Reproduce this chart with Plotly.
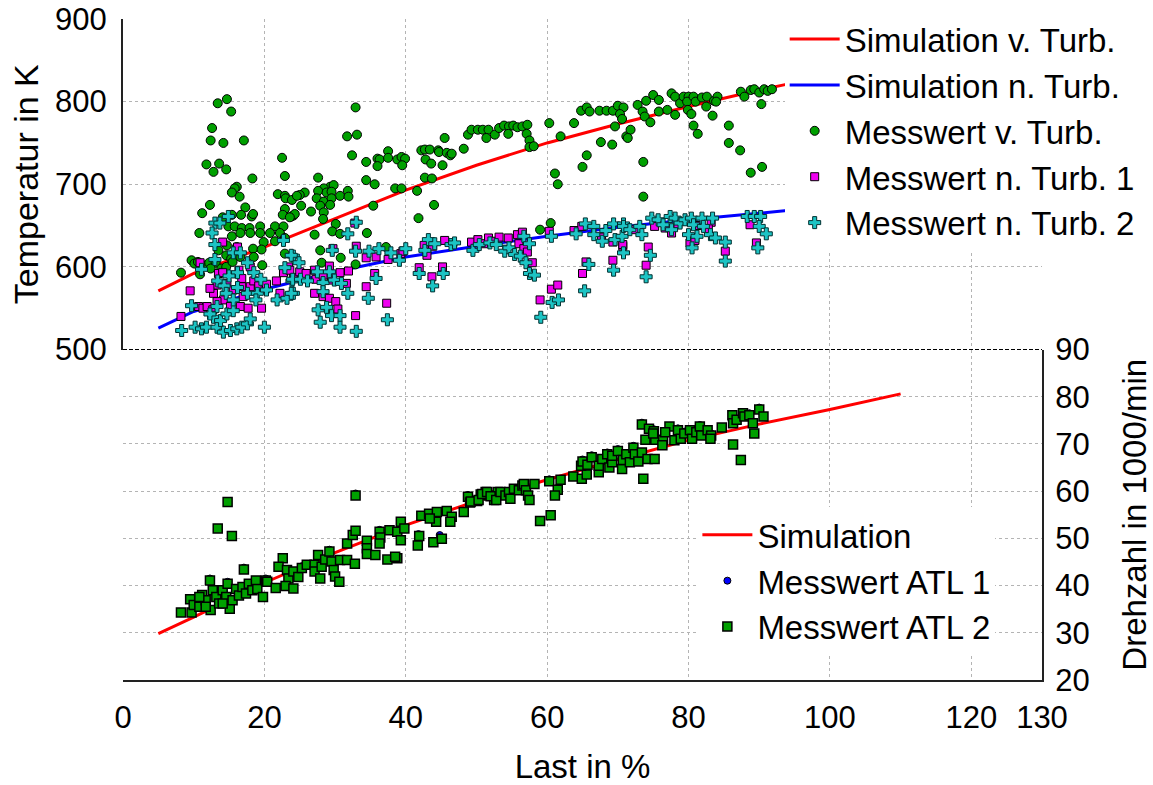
import plotly.graph_objects as go

# ---------------- data ----------------
sim_temp_x = [5, 10, 20, 30, 40, 50, 60, 70, 80, 90, 95]
sim_temp_vor = [571, 592, 624, 659, 693, 723, 750, 773, 794, 814, 823]
sim_temp_nach = [526, 546, 573, 594, 612, 625, 637, 648, 657, 665, 669]

sim_n_x = [5, 10, 20, 30, 40, 50, 60, 70, 80, 90, 100, 110]
sim_n_y = [29.8, 33.3, 40.6, 47.0, 52.8, 57.9, 62.4, 66.7, 70.8, 74.2, 77.3, 80.6]

vt_x = [13.4, 14.7, 15.3, 12.6, 12.4, 14.2, 17.1, 11.8, 13.6, 12.8, 14.6, 18.3, 22.5, 22.9, 16.1, 15.8, 15.4, 16.5,
        21.9, 22.9, 23.0, 23.9, 12.3, 17.3, 11.2, 15.4, 16.7, 18.2, 18.4, 14.1, 22.9, 22.6, 23.8, 24.1, 10.8, 14.9,
        15.8, 16.8, 17.9, 19.4, 21.5, 22.7, 15.4, 16.6, 18.0, 19.4, 20.8, 22.2, 22.9, 21.5, 19.9, 18.4, 19.6, 14.7,
        16.1, 13.5, 14.6, 15.3, 16.6, 18.5, 19.7, 9.7, 10.1, 10.6, 11.3, 12.2, 13.1, 12.4, 13.9, 8.2, 10.9, 14.6,
        15.5, 22.9,
        32.9, 31.7, 33.1, 32.4, 34.4, 36.0, 36.3, 36.0, 37.5, 37.5, 38.8, 39.4, 39.9, 39.5, 42.2, 42.7, 43.4, 44.6,
        44.7, 45.8, 46.3, 45.5, 42.8, 43.6, 45.2, 42.7, 43.7, 41.6, 44.0, 41.8, 34.4, 35.6, 38.5, 39.4, 35.4, 34.5,
        27.6, 29.3, 29.8, 28.4, 27.6, 28.8, 29.5, 30.7, 31.8, 31.9, 27.4, 28.4, 29.5, 29.3, 27.9, 28.4, 28.3, 26.6,
        25.2, 25.7, 25.0, 24.6, 24.3, 23.6, 30.1, 29.6, 30.7, 27.1, 27.9, 28.1, 30.8, 32.9, 37.2,
        46.5, 48.2, 48.8, 49.3, 50.2, 50.9, 51.7, 51.4, 52.6, 53.2, 53.9, 54.6, 55.2, 55.8, 56.5, 57.2, 54.5, 57.1,
        57.5, 57.5, 58.1, 60.3, 61.9, 63.8, 61.1, 61.5, 59.0, 60.5, 65.6, 65.0, 67.6, 69.2, 71.2, 64.8, 65.6, 66.0,
        67.4, 68.4, 69.3, 70.0, 70.8, 70.3, 70.6, 69.6, 71.8,
        71.4, 72.8, 73.5, 73.8, 74.6, 74.0, 75.0, 75.8, 75.8, 77.0, 77.6, 78.1, 78.1, 78.8, 79.3, 80.0, 79.8, 79.9,
        80.4, 80.7, 81.0, 81.9, 82.6, 82.5, 83.6, 84.1, 83.9, 83.4, 80.7, 81.3, 85.7, 85.7, 87.3, 88.8, 90.4, 87.4,
        87.9, 88.8, 89.3, 90.0, 90.3, 90.7, 91.2, 91.8, 73.6, 73.6]
vt_y = [798, 803, 788, 768, 753, 750, 753, 724, 725, 715, 718, 707, 732, 710, 697, 695, 690, 685,
        688, 686, 683, 681, 675, 672, 665, 663, 663, 661, 664, 660, 670, 663, 661, 662, 641, 649,
        649, 647, 647, 649, 649, 649, 637, 641, 641, 641, 641, 641, 635, 631, 630, 622, 621, 626,
        624, 620, 614, 610, 612, 612, 602, 608, 604, 606, 602, 605, 605, 598, 598, 593, 591, 600,
        606, 616,
        793, 758, 760, 735, 727, 731, 730, 722, 740, 732, 730, 733, 731, 723, 741, 742, 742, 741,
        739, 738, 735, 756, 730, 725, 723, 708, 707, 692, 675, 659, 705, 700, 695, 695, 674, 641,
        708, 697, 699, 695, 692, 690, 691, 686, 692, 685, 683, 679, 683, 675, 674, 666, 658, 667,
        674, 690, 687, 686, 664, 660, 652, 643, 640, 639, 620, 605, 611, 603, 624,
        737, 743, 760, 766, 766, 766, 766, 756, 760, 768, 771, 770, 771, 769, 770, 772, 761, 761,
        753, 745, 746, 774, 758, 774, 713, 700, 645, 653, 735, 721, 751, 748, 758, 789, 793, 788,
        789, 789, 789, 795, 793, 785, 779, 770, 766,
        756, 796, 788, 782, 775, 801, 808, 802, 788, 790, 810, 806, 784, 798, 806, 806, 800, 790,
        785, 806, 800, 805, 806, 794, 801, 806, 800, 783, 771, 761, 771, 750, 741, 714, 721, 812,
        806, 814, 815, 811, 797, 815, 813, 815, 727, 685]

nt1_x = [9.5, 8.2, 10.9, 10.7, 11.3, 11.9, 12.8, 13.3, 13.5, 14.1, 14.1, 16.2, 14.7, 15.6, 16.8, 18.0, 17.0, 18.0,
         18.5, 19.2, 20.1, 14.2, 15.2, 16.6, 17.7, 19.6, 12.7, 20.3, 21.7, 22.7, 23.4, 24.1, 22.2, 12.3, 13.3, 16.4,
         16.8,
         23.6, 25.0, 25.9, 27.1, 27.3, 28.3, 29.2, 29.5, 30.7, 31.9, 31.6, 27.1, 28.3, 29.2, 30.1, 30.4, 32.8, 29.7,
         33.0, 34.4, 35.8, 37.5, 39.3, 39.6, 35.6, 34.4, 37.3, 32.9, 41.9, 43.7, 45.2, 42.6, 43.0, 43.8, 45.5,
         49.3, 50.2, 51.0, 51.7, 52.5, 53.2, 54.5, 55.8, 56.5, 56.0, 56.7, 57.2, 57.9, 59.0, 60.6, 61.5, 60.3, 63.8,
         65.0, 65.5, 69.3, 70.7, 64.9, 67.7, 69.3,
         74.3, 74.0, 75.2, 76.7, 77.6, 80.2, 80.9, 85.2, 88.7, 89.6, 70.7, 83.2, 78.5, 81.5, 82.8, 72.5]
nt1_y = [571, 540, 605, 552, 550, 552, 568, 578, 592, 593, 630, 624, 580, 572, 576, 576, 564, 600,
         583, 577, 573, 560, 552, 552, 550, 550, 548, 579, 583, 593, 600, 587, 568, 574, 558, 596,
         586,
         596, 594, 592, 596, 585, 590, 601, 584, 593, 595, 580, 568, 564, 562, 558, 549, 653, 622,
         625, 611, 612, 609, 616, 619, 592, 576, 556, 541, 599, 588, 600, 626, 614, 625, 632,
         630, 633, 628, 635, 631, 636, 635, 639, 642, 628, 622, 618, 605, 560, 573, 578, 643, 644,
         592, 606, 608, 625, 649, 636, 630,
         624, 602, 649, 647, 641, 629, 632, 619, 651, 629, 627, 654, 652, 650, 646, 645]

nt2_x = [8.3, 9.7, 10.2, 11.1, 11.8, 12.8, 13.3, 14.2, 15.2, 16.1, 16.8, 17.6, 18.0, 20.0, 13.8, 14.7, 15.6, 13.0,
         13.7, 12.6, 13.0, 13.0, 11.1, 13.4, 14.3, 15.6, 16.6, 17.6, 18.5, 16.2, 15.0, 14.6, 16.2, 17.6, 19.0, 18.8,
         15.6, 13.3, 12.3, 19.5, 20.3, 21.8, 23.2, 23.9, 24.1, 22.9, 22.7, 24.1, 14.9,
         23.8, 24.9, 24.0, 25.1, 26.1, 23.8, 27.5, 28.3, 29.2, 29.9, 30.9, 31.8, 28.3, 27.6, 28.8, 29.5, 30.7, 30.7,
         27.9, 33.0, 31.8, 33.0, 29.6, 32.9, 34.8, 36.2, 37.9, 39.1, 40.0, 35.8, 34.7, 37.4, 42.7, 43.2, 44.1, 46.4,
         41.9, 43.8, 45.3,
         46.9, 49.5, 50.4, 51.9, 52.8, 54.0, 54.6, 55.4, 56.2, 56.7, 57.5, 57.0, 57.5, 58.2, 59.1, 60.7, 61.6, 60.6,
         64.1, 65.4, 66.6, 66.6, 67.8, 68.3, 69.4, 69.6, 70.6, 70.8, 69.4, 65.9, 65.3, 70.8,
         70.8, 71.7, 73.1, 73.4, 74.8, 75.7, 76.4, 77.4, 78.1, 78.8, 77.6, 79.5, 80.4, 80.7, 81.9, 82.1, 83.4, 80.0,
         81.2, 80.5, 83.1, 83.8, 85.2, 85.2, 88.3, 89.3, 90.2, 90.0, 91.0, 89.8, 74.6, 74.0]
nt2_y = [523, 553, 527, 525, 527, 539, 527, 521, 523, 525, 527, 531, 537, 527, 535, 543, 547, 653,
         653, 641, 627, 609, 597, 583, 577, 617, 617, 605, 593, 593, 589, 568, 575, 568, 568, 560,
         560, 552, 543, 585, 572, 560, 562, 583, 613, 599, 632, 568, 661,
         614, 605, 585, 585, 583, 568, 594, 581, 594, 584, 580, 568, 570, 548, 551, 541, 541, 527,
         533, 522, 640, 654, 620, 619, 619, 622, 617, 608, 622, 586, 562, 536, 620, 633, 628, 627,
         592, 577, 592,
         629, 620, 627, 629, 627, 619, 623, 615, 613, 637, 628, 605, 592, 590, 539, 557, 560, 637,
         640, 652, 649, 639, 631, 644, 652, 633, 637, 617, 596, 603, 571, 652,
         649, 645, 649, 639, 659, 657, 651, 661, 659, 653, 645, 657, 659, 651, 659, 649, 659, 639,
         637, 623, 639, 635, 630, 607, 661, 661, 661, 649, 640, 623, 614, 588]

atl1_x = [73.4, 72.2, 65.0, 66.3, 61.5, 81.6, 88.6, 86.3, 44.8, 32.9, 36.3, 57.0, 25.3, 14.8, 12.3, 20.2,
          68.5, 70.0, 75.1, 78.5, 83.2, 52.8, 48.8, 41.8, 29.2, 17.1, 60.3, 87.9, 90.0, 79.4]
atl1_y = [74.5, 69.6, 66.7, 67.6, 60.7, 74.0, 76.5, 74.8, 50.7, 59.5, 51.8, 60.6, 44.1, 40.8, 41.5, 41.5,
          68.2, 68.9, 73.1, 73.3, 72.2, 58.5, 59.2, 50.9, 47.6, 43.8, 62.5, 76.2, 77.7, 72.6]

atl2_x = [14.8, 13.4, 15.4, 8.2, 9.7, 9.5, 10.0, 10.8, 11.2, 11.7, 12.4, 12.3, 12.7, 13.2, 13.6, 14.1, 14.6, 14.8,
          15.1, 15.5, 16.0, 16.4, 16.9, 17.4, 17.8, 18.3, 18.8, 19.0, 19.8, 20.2, 17.1, 20.4, 14.1, 11.7, 10.8, 21.6,
          22.6, 22.0, 23.2, 23.4, 23.0, 24.1, 24.1, 24.8, 25.3, 26.0, 27.1, 27.1, 27.6, 27.9, 28.1, 28.6, 29.2, 29.5,
          29.8, 30.0, 30.6, 30.7, 31.7, 31.7, 32.5, 32.8, 32.9, 34.5, 34.5, 34.5, 35.7, 36.3, 36.4, 36.3, 37.4, 37.7,
          38.8, 38.8,
          32.9, 38.5, 39.3, 39.3, 39.8, 41.9, 41.7, 43.9, 45.1, 42.2, 43.3, 44.4, 45.8, 46.5, 46.3, 44.3, 43.4, 48.2,
          48.8, 49.1, 50.1, 50.6, 51.3, 51.8, 52.5, 53.0,
          49.2, 50.3, 50.8, 51.5, 52.0, 52.8, 53.4, 54.1, 54.6, 54.8, 55.3, 56.0, 56.5, 56.7, 57.0, 57.3, 57.5, 58.2,
          59.0, 60.5, 60.3, 61.9, 61.5, 61.1, 63.7, 64.9, 65.6, 64.8, 65.0, 65.7, 66.3, 67.3, 67.3, 67.8, 68.5, 68.8,
          69.2, 69.2, 70.0, 70.6, 70.7, 71.2, 71.7, 72.2, 72.4, 72.9, 73.4, 73.6, 73.4, 74.4, 74.2, 75.2, 75.1, 75.3,
          73.9,
          75.0, 76.4, 77.3, 76.7, 78.0, 78.5, 78.9, 79.4, 80.2, 80.5, 81.1, 81.6, 81.8, 82.7, 83.2, 83.1, 84.7, 76.3,
          86.2, 86.3, 86.8, 87.7, 87.9, 88.6, 89.1, 89.3, 90.0, 90.6, 86.3, 87.4]
atl2_y = [57.7, 52.1, 50.5, 34.3, 34.3, 37.1, 35.9, 35.5, 38.0, 36.9, 34.8, 41.1, 39.0, 37.6, 36.2, 39.0, 37.6, 40.4,
          35.1, 36.9, 39.3, 37.9, 39.7, 38.3, 40.4, 39.0, 41.1, 39.3, 37.6, 41.1, 43.4, 40.8, 36.2, 35.5, 37.6, 39.5,
          45.8, 44.0, 43.3, 41.5, 39.9, 39.4, 43.0, 41.8, 43.7, 44.4, 44.4, 43.0, 46.5, 41.5, 44.0, 45.5, 47.2, 45.1,
          43.3, 41.9, 40.8, 45.4, 45.4, 48.9, 50.7, 44.6, 51.6, 49.5, 47.9, 46.7, 46.5, 51.4, 50.2, 48.9, 45.5, 51.7,
          51.4, 45.8,
          59.1, 46.1, 53.5, 49.6, 52.1, 50.5, 48.5, 49.2, 49.9, 54.8, 55.2, 55.6, 55.8, 54.6, 53.5, 53.5, 54.2, 55.6,
          58.8, 57.6, 57.9, 59.3, 59.8, 59.1, 58.1, 59.8,
          57.8, 58.1, 59.4, 59.8, 58.9, 58.1, 59.8, 59.1, 59.8, 58.4, 60.5, 60.2, 61.2, 61.5, 60.2, 59.1, 58.1, 61.5,
          53.7, 54.9, 62.1, 62.4, 60.3, 59.1, 63.1, 62.6, 63.5, 65.4, 66.3, 65.6, 67.2, 64.0, 65.4, 66.8, 67.8, 65.0,
          66.1, 67.5, 68.5, 64.7, 66.6, 67.8, 66.1, 69.2, 67.8, 66.3, 68.2, 62.6, 74.1, 73.2, 66.8, 66.8, 72.7, 70.9,
          70.9,
          72.2, 70.8, 73.7, 72.5, 70.8, 72.9, 71.1, 72.2, 72.9, 71.1, 72.5, 73.7, 71.8, 72.9, 71.8, 71.1, 73.5, 69.7,
          76.1, 74.4, 75.1, 76.5, 75.8, 76.1, 74.4, 72.2, 77.3, 75.8, 69.9, 66.6]

x_ticks = [0, 20, 40, 60, 80, 100, 120, 130]
temp_ticks = [500, 600, 700, 800, 900]
n_ticks = [20, 30, 40, 50, 60, 70, 80, 90]

# ---------------- figure ----------------
FONT = "Liberation Sans, Arial, sans-serif"
GRID = "#B4B4B4"

fig = go.Figure()

# top panel
fig.add_trace(go.Scatter(x=sim_temp_x, y=sim_temp_vor, mode="lines", name="Simulation v. Turb.",
                         line=dict(color="#FF0000", width=3), xaxis="x2", yaxis="y", legend="legend"))
fig.add_trace(go.Scatter(x=sim_temp_x, y=sim_temp_nach, mode="lines", name="Simulation n. Turb.",
                         line=dict(color="#0000FF", width=3), xaxis="x2", yaxis="y", legend="legend"))
fig.add_trace(go.Scatter(x=vt_x, y=vt_y, mode="markers", name="Messwert v. Turb.",
                         marker=dict(symbol="circle", size=9, color="#00A000", line=dict(color="#000000", width=1)),
                         xaxis="x2", yaxis="y", legend="legend"))
fig.add_trace(go.Scatter(x=nt1_x, y=nt1_y, mode="markers", name="Messwert n. Turb. 1",
                         marker=dict(symbol="square", size=8, color="#EE00EE", line=dict(color="#000000", width=1)),
                         xaxis="x2", yaxis="y", legend="legend"))
fig.add_trace(go.Scatter(x=nt2_x, y=nt2_y, mode="markers", name="Messwert n. Turb. 2",
                         marker=dict(symbol="cross", size=10, color="#1CC4C4", line=dict(color="#003030", width=1)),
                         xaxis="x2", yaxis="y", legend="legend"))

# bottom panel
fig.add_trace(go.Scatter(x=sim_n_x, y=sim_n_y, mode="lines", name="Simulation",
                         line=dict(color="#FF0000", width=3), xaxis="x", yaxis="y2", legend="legend2"))
fig.add_trace(go.Scatter(x=atl1_x, y=atl1_y, mode="markers", name="Messwert ATL 1",
                         marker=dict(symbol="circle", size=7, color="#0000FF", line=dict(color="#000000", width=1)),
                         xaxis="x", yaxis="y2", legend="legend2"))
fig.add_trace(go.Scatter(x=atl2_x, y=atl2_y, mode="markers", name="Messwert ATL 2",
                         marker=dict(symbol="square", size=9, color="#00A000", line=dict(color="#000000", width=1.5)),
                         xaxis="x", yaxis="y2", legend="legend2"))

grid_common = dict(showgrid=True, gridcolor=GRID, griddash="dot", gridwidth=1, zeroline=False, ticks="",
                   automargin=False)

fig.update_layout(
    width=1153, height=785,
    margin=dict(l=123, r=111, t=19, b=105, autoexpand=False),
    paper_bgcolor="white", plot_bgcolor="white",
    font=dict(family=FONT, size=31, color="#000000"),
    showlegend=True,
    xaxis=dict(domain=[0, 1], anchor="y2", range=[0, 130], tickvals=x_ticks, ticktext=[str(v) for v in x_ticks],
               showline=True, linecolor="#222222", linewidth=2, ticklabelstandoff=9,
               tickfont=dict(size=31),
               title=dict(text="Last in %", font=dict(size=33), standoff=30), **grid_common),
    xaxis2=dict(domain=[0, 1], anchor="y", matches="x", range=[0, 130], tickvals=x_ticks,
                showticklabels=False, showline=False, **grid_common),
    yaxis=dict(domain=[0.5, 1], anchor="x2", range=[500, 900], tickvals=temp_ticks, side="left",
               showline=True, linecolor="#222222", linewidth=2, ticklabelstandoff=8,
               tickfont=dict(size=31),
               title=dict(text="Temperatur in K", font=dict(size=34), standoff=6), **grid_common),
    yaxis2=dict(domain=[0, 0.5], anchor="x", range=[20, 90], tickvals=n_ticks, side="right",
                showline=True, linecolor="#222222", linewidth=2, ticklabelstandoff=5,
                tickfont=dict(size=31),
                title=dict(text="Drehzahl in 1000/min", font=dict(size=33), standoff=36), **grid_common),
    legend=dict(x=0.72, y=1.012, xanchor="left", yanchor="top", bgcolor="white", borderwidth=0,
                font=dict(size=33), itemwidth=50, tracegroupgap=0, traceorder="normal"),
    legend2=dict(x=0.625, y=0.262, xanchor="left", yanchor="top", bgcolor="white", borderwidth=0,
                 font=dict(size=33), itemwidth=50, tracegroupgap=0, traceorder="normal"),
    shapes=[dict(type="line", xref="paper", yref="paper", x0=0, x1=1, y0=0.5, y1=0.5,
                 line=dict(color="#000000", width=1.2, dash="4px,2px"), layer="above")],
)

fig.write_html("out.html")
